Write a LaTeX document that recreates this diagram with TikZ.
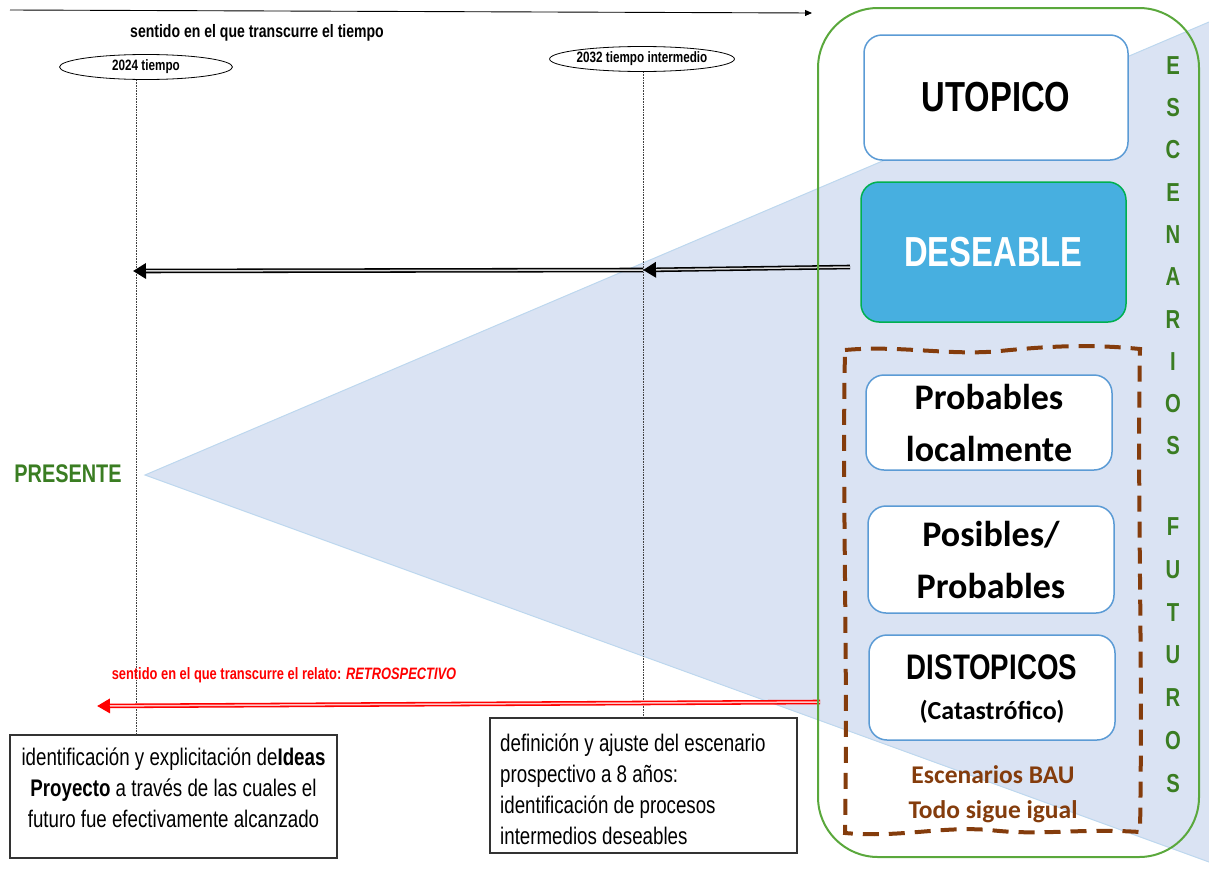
\documentclass[tikz,border=0pt]{standalone}
\usepackage{fontspec}
\setmainfont{Liberation Sans}
\newfontfamily\narrowf{Liberation Sans}[FakeStretch=0.78]
\newfontfamily\calib{Carlito}
\usetikzlibrary{arrows.meta,shapes.geometric}
\definecolor{trifill}{HTML}{DAE3F3}
\definecolor{triedge}{HTML}{BDD7EE}
\definecolor{gbox}{HTML}{5AA83C}
\definecolor{gtext}{HTML}{3A7D22}
\definecolor{bborder}{HTML}{5B9BD5}
\definecolor{desfill}{HTML}{47AFE0}
\definecolor{desborder}{HTML}{00B050}
\definecolor{bauBrown}{HTML}{843C0C}
\definecolor{redin}{RGB}{255,200,200}
\begin{document}
\begin{tikzpicture}[x=1pt,y=-1pt,
  scen/.style={draw=bborder, line width=1.5pt, fill=white, rounded corners=18pt, align=center, inner sep=0pt},
  txtbox/.style={draw=black!80, line width=1.2pt, fill=white, inner sep=0pt},
  vlet/.style={text=gtext, font=\narrowf\bfseries\fontsize{26}{26}\selectfont},
  timeell/.style={ellipse, draw, line width=0.8pt, fill=white, inner sep=0pt, minimum width=173pt, minimum height=25pt, font=\narrowf\bfseries\fontsize{15}{15}\selectfont},
  dotline/.style={densely dotted, line width=0.6pt, black!75},
  dblout/.style={line width=4.6pt, -{Triangle[length=13pt,width=15pt]}},
  dblin/.style={white!85!black, line width=1.5pt, shorten >=13pt},
  redout/.style={red, line width=4.6pt, -{Triangle[length=13pt,width=14pt]}},
  redinner/.style={redin, line width=1.5pt, shorten >=13pt},
  bau/.style={draw=bauBrown, line width=4pt, dash pattern=on 16pt off 10pt},
  bautext/.style={text=bauBrown, font=\calib\bfseries\fontsize{25.5}{25.5}\selectfont}
]
\useasboundingbox (0,0) rectangle (1209,870);
% projection cone
\fill[trifill] (145,475) -- (1209,22) -- (1209,862) -- cycle;
\draw[triedge, line width=1pt] (1209,22) -- (145,475) -- (1209,862);

% top time arrow
\coordinate (tA) at (10,10);
\coordinate (tB) at (812,13);
\draw[line width=0.9pt, -{Triangle[length=7pt,width=6pt]}] (tA) -- (tB);
\node[font=\narrowf\bfseries\fontsize{18}{18}\selectfont] (sent) at (257,33) {sentido en el que transcurre el tiempo};

% time ellipses
\node[timeell] (t2024) at (146,67) {2024 tiempo};
\node[timeell, minimum width=175pt] (t2032) at (642,59) {2032 tiempo intermedio};

% bottom boxes
\node[txtbox, minimum width=327pt, minimum height=123pt] (boxL) at (173.5,796.5) {};
\node[align=center, inner sep=0pt, font=\narrowf\fontsize{24}{31}\selectfont] (txtL) at (173.5,788)
  {identificación y explicitación de\textbf{Ideas}\\\textbf{Proyecto} a través de las cuales el\\futuro fue efectivamente alcanzado};
\node[txtbox, minimum width=307pt, minimum height=135pt] (boxM) at (643.5,785.5) {};
\node[align=left, anchor=west, inner sep=0pt, font=\narrowf\fontsize{24}{31}\selectfont] (txtM) at (500,789)
  {definición y ajuste del escenario\\prospectivo a 8 años:\\identificación de procesos\\intermedios deseables};

% dotted time lines
\coordinate (d1a) at (136,80);
\coordinate (d1b) at (136,735);
\coordinate (d2a) at (643,72);
\coordinate (d2b) at (643,718);
\draw[dotline] (d1a) -- (d1b);
\draw[dotline] (d2a) -- (d2b);

% backcasting arrows
\coordinate (bA) at (850,267);
\coordinate (bB) at (643,270);
\coordinate (bC) at (133,271);
\draw[dblout] (bA) -- (bB);
\draw[dblin] (bA) -- (bB);
\draw[dblout] (bB) -- (bC);
\draw[dblin] (bB) -- (bC);

% red retrospective arrow
\coordinate (rA) at (820,702);
\coordinate (rB) at (97,706);
\draw[redout] (rA) -- (rB);
\draw[redinner] (rA) -- (rB);
\node[text=red, font=\narrowf\bfseries\fontsize{16.5}{16.5}\selectfont] (rtext) at (284,675) {sentido en el que transcurre el relato: \textit{RETROSPECTIVO}};

% PRESENTE
\node[text=gtext, font=\narrowf\bfseries\fontsize{25.5}{25.5}\selectfont] (pres) at (68,474) {PRESENTE};

% green frame
\draw[gbox, line width=2pt, rounded corners=60pt] (818,8) rectangle (1199,857);

% scenario boxes
\node[scen, minimum width=264pt, minimum height=125pt, font=\narrowf\bfseries\fontsize{42}{42}\selectfont] (utop) at (996,97.5) {UTOPICO};
\node[scen, draw=desborder, fill=desfill, text=white, minimum width=265pt, minimum height=140pt, font=\narrowf\bfseries\fontsize{42}{42}\selectfont] (des) at (993.5,252) {DESEABLE};

% BAU dashed frame
\draw[bau] (845,350) .. controls (900,345) and (950,356) .. (1000,351)
  .. controls (1050,346) and (1090,344) .. (1140,349)
  .. controls (1137,500) and (1143,650) .. (1140,832)
  .. controls (1080,828) and (1040,836) .. (990,830)
  .. controls (940,826) and (900,838) .. (845,833)
  .. controls (848,650) and (842,500) .. (845,350) -- cycle;

\node[scen, minimum width=246pt, minimum height=95pt, font=\calib\bfseries\fontsize{36}{52}\selectfont] (prob) at (989,422.5) {Probables\\localmente};
\node[scen, minimum width=246pt, minimum height=107pt, font=\calib\bfseries\fontsize{36}{52}\selectfont] (pos) at (991,559.5) {Posibles/\\Probables};
\node[scen, minimum width=246pt, minimum height=105pt] (dist) at (992,687.5) {};
\node[font=\narrowf\bfseries\fontsize{35.5}{35.5}\selectfont] (distA) at (992,667) {DISTOPICOS};
\node[font=\calib\bfseries\fontsize{26}{26}\selectfont] (distB) at (992,712) {(Catastrófico)};

\node[bautext] (bau1) at (993,775) {Escenarios BAU};
\node[bautext] (bau2) at (993,812) {Todo sigue igual};

% vertical label
\foreach \l [count=\i] in {E,S,C,E,N,A,R,I,O,S}
  \node[vlet] (esc\i) at (1173,23+42.3*\i) {\l};
\foreach \l [count=\i] in {F,U,T,U,R,O,S}
  \node[vlet] (fut\i) at (1173,484.3+42.7*\i) {\l};
\end{tikzpicture}
\end{document}
